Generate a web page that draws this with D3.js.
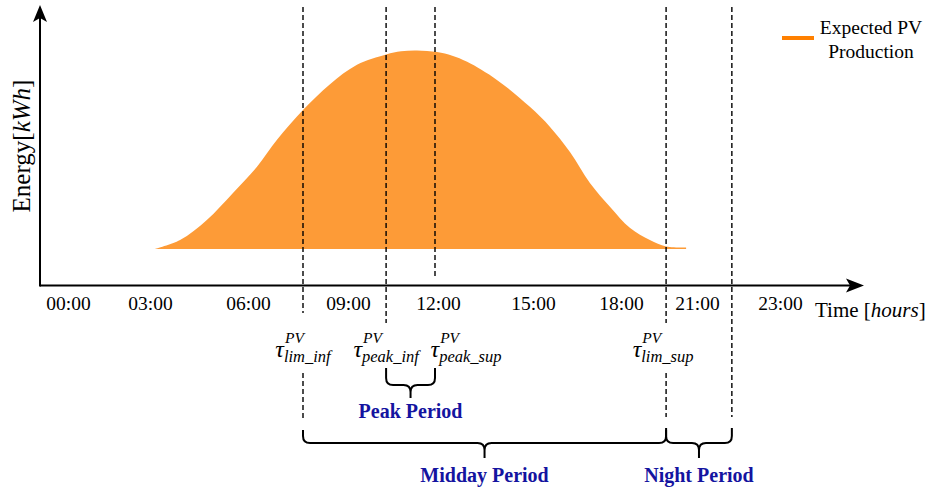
<!DOCTYPE html>
<html>
<head>
<meta charset="utf-8">
<script src="https://cdn.jsdelivr.net/npm/d3@7"></script>
<style>body{margin:0;background:#fff}</style>
</head>
<body>
<svg id="c" width="929" height="488"></svg>
<script>
// ---------- data ----------
const tickHours  = [0, 3, 6, 9, 12, 15, 18, 21, 23];
const tickLabels = ["00:00","03:00","06:00","09:00","12:00","15:00","18:00","21:00","23:00"];

// Expected PV production (hours, kWh - relative units)
const pvHours  = [3.15, 3.92, 4.74, 5.54, 6.27, 6.87, 7.65, 8.46, 9.30, 10.27, 10.77, 11.30, 11.97,
                  12.45, 12.92, 13.86, 14.90, 15.58, 16.26, 16.94, 17.63, 18.36, 19.14, 19.78, 20.57];
const pvEnergy = [0, 0.45, 1.46, 2.82, 4.14, 5.50, 7.00, 8.30, 9.28, 9.80, 9.96, 10.0, 9.92,
                  9.74, 9.43, 8.52, 7.16, 6.15, 4.89, 3.33, 2.12, 1.06, 0.45, 0.13, 0.08];

// Time markers (hours)
const markerHours = [7.65, 10.27, 11.9, 19.78, 21.84];
const markerSubs  = ["lim_inf", "peak_inf", "peak_sup", "lim_sup", null];

// Periods: [start marker index, end marker index]
const periodNames = ["Peak Period", "Midday Period", "Night Period"];
const periodStart = [1, 0, 3];
const periodEnd   = [2, 3, 4];

const legendLabel = ["Expected PV", "Production"];

// ---------- layout ----------
const svg = d3.select("#c");
const serif = "'Liberation Serif', 'Times New Roman', serif";
const x = d3.scaleLinear().domain(tickHours).range([68,150,248,348,438,533,621,697,780]);
const y = d3.scaleLinear().domain([0, 10]).range([249, 50.5]);
const axisY = 285.5, axisX = 40;
const blue = "#1414a0";

// area
const pts = pvHours.map((h, i) => [h, pvEnergy[i]]);
svg.append("path")
  .datum(pts)
  .attr("fill", "#fd9b37")
  .attr("d", d3.area().x(d => x(d[0])).y0(y(0)).y1(d => y(d[1])).curve(d3.curveCatmullRom.alpha(0.5)));

// axes
svg.append("line").attr("x1", axisX).attr("x2", 850).attr("y1", axisY).attr("y2", axisY)
  .attr("stroke", "#000").attr("stroke-width", 2);
svg.append("line").attr("x1", axisX).attr("x2", axisX).attr("y1", axisY + 1).attr("y2", 18)
  .attr("stroke", "#000").attr("stroke-width", 2);
svg.append("path").attr("d", `M864,${axisY} L846,${axisY-7} L850,${axisY} L846,${axisY+7} Z`).attr("fill", "#000");
svg.append("path").attr("d", `M${axisX},5 L${axisX-7},22 L${axisX},18 L${axisX+7},22 Z`).attr("fill", "#000");

const gx = svg.append("g").attr("transform", `translate(0,${axisY})`)
  .call(d3.axisBottom(x).tickValues(tickHours).tickFormat((d, i) => tickLabels[i]).tickSize(0));
gx.select(".domain").remove();
gx.attr("font-family", serif).attr("font-size", "19.5px");
gx.selectAll("text").attr("dy", null).attr("y", 310 - axisY).attr("fill", "#000");

// axis titles
const tt = svg.append("text").attr("x", 815).attr("y", 317)
  .attr("font-family", serif).attr("font-size", "21px");
tt.append("tspan").text("Time [");
tt.append("tspan").attr("font-style", "italic").text("hours");
tt.append("tspan").text("]");

const yt = svg.append("text").attr("transform", "translate(30,146) rotate(-90)")
  .attr("text-anchor", "middle").attr("font-family", serif).attr("font-size", "25px");
yt.append("tspan").text("Energy[");
yt.append("tspan").attr("font-style", "italic").text("kWh");
yt.append("tspan").text("]");

// dashed markers
const markerSegs = [[[7,313],[373,418]], [[7,323]], [[7,277]], [[7,323],[373,417]], [[7,417]]];
markerHours.forEach((h, i) => {
  markerSegs[i].forEach(s => {
    svg.append("line").attr("x1", x(h)).attr("x2", x(h)).attr("y1", s[0]).attr("y2", s[1])
      .attr("stroke", "#000").attr("stroke-width", 1.4).attr("stroke-dasharray", "5,3");
  });
});

// tau labels (single text element with super/subscript tspans)
const tauShift = [0, 0, 31, -3, 0];
markerHours.forEach((h, i) => {
  if (!markerSubs[i]) return;
  const t = svg.append("text").attr("font-family", serif).attr("font-style", "italic").attr("y", 357);
  const t0 = t.append("tspan").attr("x", 0).attr("font-size", "24px").text("τ");
  const w = t0.node().getComputedTextLength();
  const sp = t.append("tspan").attr("x", w + 1).attr("y", 343).attr("font-size", "15.5px").text("PV");
  const sb = t.append("tspan").attr("x", w).attr("y", 362).attr("font-size", "16.5px").text(markerSubs[i]);
  const total = w + Math.max(sp.node().getComputedTextLength() + 1, sb.node().getComputedTextLength());
  t.attr("transform", `translate(${x(h) + tauShift[i] - total / 2},0)`);
});

// braces
function brace(x1, x2, yTop, yMid, yTip, r) {
  const xm = (x1 + x2) / 2;
  return `M${x1},${yTop} L${x1},${yMid - r} Q${x1},${yMid} ${x1 + r},${yMid} L${xm - r},${yMid} Q${xm},${yMid} ${xm},${yMid + r} L${xm},${yTip}` +
         ` M${x2},${yTop} L${x2},${yMid - r} Q${x2},${yMid} ${x2 - r},${yMid} L${xm + r},${yMid} Q${xm},${yMid} ${xm},${yMid + r}`;
}
const braceY = [[368, 385, 398], [430, 443, 458], [428, 443, 458]];
const labelY = [418, 482, 482];
periodNames.forEach((name, i) => {
  const x1 = x(markerHours[periodStart[i]]), x2 = x(markerHours[periodEnd[i]]);
  const b = braceY[i];
  svg.append("path").attr("d", brace(x1, x2, b[0], b[1], b[2], 7))
    .attr("fill", "none").attr("stroke", "#000").attr("stroke-width", 2);
  svg.append("text").attr("x", (x1 + x2) / 2).attr("y", labelY[i]).attr("text-anchor", "middle")
    .attr("font-family", serif).attr("font-weight", "bold").attr("font-size", "20px")
    .attr("fill", blue).text(name);
});

// legend
svg.append("line").attr("x1", 782).attr("x2", 814).attr("y1", 38).attr("y2", 38)
  .attr("stroke", "#ff8000").attr("stroke-width", 4);
legendLabel.forEach((s, i) => {
  svg.append("text").attr("x", 871).attr("y", 34 + i * 24).attr("text-anchor", "middle")
    .attr("font-family", serif).attr("font-size", "19.5px").text(s);
});
</script>
</body>
</html>
